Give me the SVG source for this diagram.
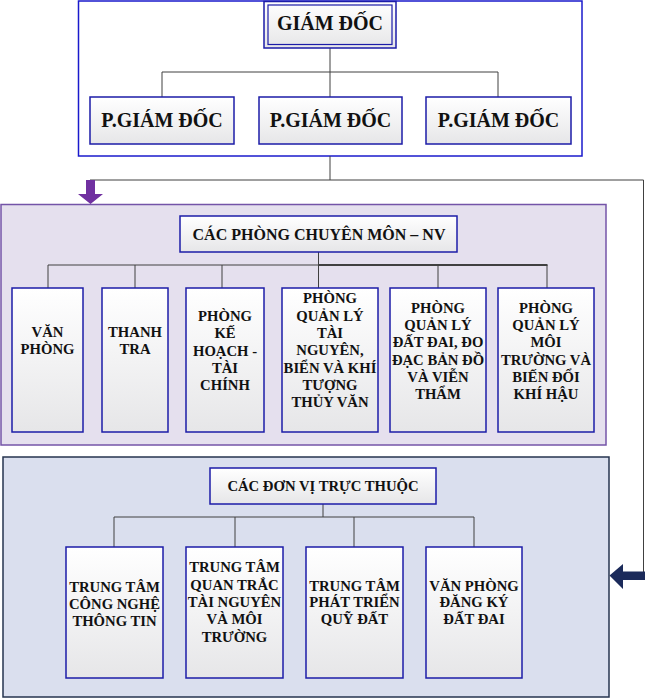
<svg xmlns="http://www.w3.org/2000/svg" width="646" height="699" viewBox="0 0 646 699">
<defs>
<linearGradient id="g" x1="0" y1="0" x2="0" y2="1">
<stop offset="0" stop-color="#FFFFFF"/>
<stop offset="1" stop-color="#E6E6E8"/>
</linearGradient>
<style>
.box{fill:url(#g);stroke:#1C1CA8;stroke-width:1.5}
.t{font-family:"Liberation Serif","Times New Roman",serif;font-weight:bold;fill:#111;text-anchor:middle}
.big{font-size:20px}
.hd{font-size:16px}
.hd2{font-size:14.7px}
.s{font-size:14.7px}
.ln{stroke:#404040;stroke-width:1;fill:none}
</style>
</defs>
<rect width="646" height="699" fill="#FFFFFF"/>

<!-- containers -->
<g id="container-leadership">
<rect x="78.5" y="1" width="503.5" height="155" fill="#FFFFFF" stroke="#1A1ACC" stroke-width="1.5"/>
</g>
<g id="container-departments">
<rect x="1" y="204.5" width="605" height="240.5" fill="#E5E0EE" stroke="#7454A8" stroke-width="1.5"/>
</g>
<g id="container-units">
<rect x="3" y="457" width="606" height="240" fill="#DADFEE" stroke="#26344F" stroke-width="1.5"/>
</g>

<!-- connectors -->
<g id="connectors">
<path class="ln" d="M330 48 V72 M162 72 H498 M162 72 V97 M330 72 V97 M498 72 V97"/>
<path class="ln" d="M330 156 V180 M90 180 H643.5 V572"/>
<path class="ln" d="M318.5 252 V288 M48 265 H318.5 M48 265 V288 M135 265 V288 M222 265 V288 M438 265 V288 M547 265 V288"/>
<path d="M318.5 265 H547.5" stroke="#404040" stroke-width="2" fill="none"/>
<path class="ln" d="M323 504 V517 M114 517 H474 M114 517 V547 M235 517 V547 M354 517 V547 M474 517 V547"/>
<polygon points="86,180 95,180 95,194 103,194 90.5,204 78,194 86,194" fill="#7030A0"/>
<polygon points="645,571.5 645,580 623,580 623,589 609.5,575.5 623,564 623,571.5" fill="#1B2A5A"/>
</g>

<!-- leadership -->
<g id="giam-doc">
<rect x="264" y="1.5" width="132" height="46.5" class="box"/>
<rect x="268" y="5" width="124" height="39.5" fill="none" stroke="#1C1CA8" stroke-width="1.2"/>
<text class="t big" x="330" y="30">GIÁM ĐỐC</text>
</g>
<g id="pgd-1">
<rect x="90" y="97" width="144" height="47" class="box"/>
<text class="t big" x="162" y="126.5">P.GIÁM ĐỐC</text>
</g>
<g id="pgd-2">
<rect x="259" y="97" width="143" height="47" class="box"/>
<text class="t big" x="330.5" y="126.5">P.GIÁM ĐỐC</text>
</g>
<g id="pgd-3">
<rect x="426" y="97" width="145" height="47" class="box"/>
<text class="t big" x="498.5" y="126.5">P.GIÁM ĐỐC</text>
</g>

<!-- departments -->
<g id="cac-phong">
<rect x="180" y="216" width="277" height="36" class="box"/>
<text class="t hd" x="319" y="239.5">CÁC PHÒNG CHUYÊN MÔN – NV</text>
</g>
<g id="van-phong">
<rect x="12" y="288" width="71" height="144" class="box"/>
<text class="t s" x="47.5" y="337">VĂN</text>
<text class="t s" x="47.5" y="354.3">PHÒNG</text>
</g>
<g id="thanh-tra">
<rect x="102" y="288" width="66" height="144" class="box"/>
<text class="t s" x="135" y="337">THANH</text>
<text class="t s" x="135" y="354.3">TRA</text>
</g>
<g id="ke-hoach">
<rect x="186" y="288" width="78" height="144" class="box"/>
<text class="t s" x="225" y="321">PHÒNG</text>
<text class="t s" x="225" y="338.3">KẾ</text>
<text class="t s" x="225" y="355.6">HOẠCH -</text>
<text class="t s" x="225" y="372.9">TÀI</text>
<text class="t s" x="225" y="390.2">CHÍNH</text>
</g>
<g id="tai-nguyen">
<rect x="282" y="288" width="96" height="144" class="box"/>
<text class="t s" x="330" y="303.3">PHÒNG</text>
<text class="t s" x="330" y="320.6">QUẢN LÝ</text>
<text class="t s" x="330" y="337.9">TÀI</text>
<text class="t s" x="330" y="355.2">NGUYÊN,</text>
<text class="t s" x="330" y="372.5">BIỂN VÀ KHÍ</text>
<text class="t s" x="330" y="389.8">TƯỢNG</text>
<text class="t s" x="330" y="407.1">THỦY VĂN</text>
</g>
<g id="dat-dai">
<rect x="390" y="288" width="96" height="144" class="box"/>
<text class="t s" x="438" y="313">PHÒNG</text>
<text class="t s" x="438" y="330.2">QUẢN LÝ</text>
<text class="t s" x="438" y="347.4">ĐẤT ĐAI, ĐO</text>
<text class="t s" x="438" y="364.6">ĐẠC BẢN ĐỒ</text>
<text class="t s" x="438" y="381.8">VÀ VIỄN</text>
<text class="t s" x="438" y="399">THẨM</text>
</g>
<g id="moi-truong">
<rect x="498" y="288" width="96" height="144" class="box"/>
<text class="t s" x="546" y="313">PHÒNG</text>
<text class="t s" x="546" y="330.2">QUẢN LÝ</text>
<text class="t s" x="546" y="347.4">MÔI</text>
<text class="t s" x="546" y="364.6">TRƯỜNG VÀ</text>
<text class="t s" x="546" y="381.8">BIẾN ĐỔI</text>
<text class="t s" x="546" y="399">KHÍ HẬU</text>
</g>

<!-- units -->
<g id="cac-don-vi">
<rect x="210" y="468" width="226" height="36" class="box"/>
<text class="t hd2" x="323" y="490.7">CÁC ĐƠN VỊ TRỰC THUỘC</text>
</g>
<g id="cntt">
<rect x="66" y="547" width="97" height="131" class="box"/>
<text class="t s" x="114.5" y="592">TRUNG TÂM</text>
<text class="t s" x="114.5" y="609">CÔNG NGHỆ</text>
<text class="t s" x="114.5" y="626">THÔNG TIN</text>
</g>
<g id="quan-trac">
<rect x="186" y="547" width="97" height="131" class="box"/>
<text class="t s" x="234.5" y="572.3">TRUNG TÂM</text>
<text class="t s" x="234.5" y="589.6">QUAN TRẮC</text>
<text class="t s" x="234.5" y="606.9">TÀI NGUYÊN</text>
<text class="t s" x="234.5" y="624.2">VÀ MÔI</text>
<text class="t s" x="234.5" y="641.5">TRƯỜNG</text>
</g>
<g id="quy-dat">
<rect x="306" y="547" width="97" height="131" class="box"/>
<text class="t s" x="354.5" y="590.5">TRUNG TÂM</text>
<text class="t s" x="354.5" y="607.3">PHÁT TRIỂN</text>
<text class="t s" x="354.5" y="624">QUỸ ĐẤT</text>
</g>
<g id="dang-ky">
<rect x="426" y="547" width="96" height="131" class="box"/>
<text class="t s" x="474" y="590.5">VĂN PHÒNG</text>
<text class="t s" x="474" y="607.3">ĐĂNG KÝ</text>
<text class="t s" x="474" y="624">ĐẤT ĐAI</text>
</g>
</svg>
